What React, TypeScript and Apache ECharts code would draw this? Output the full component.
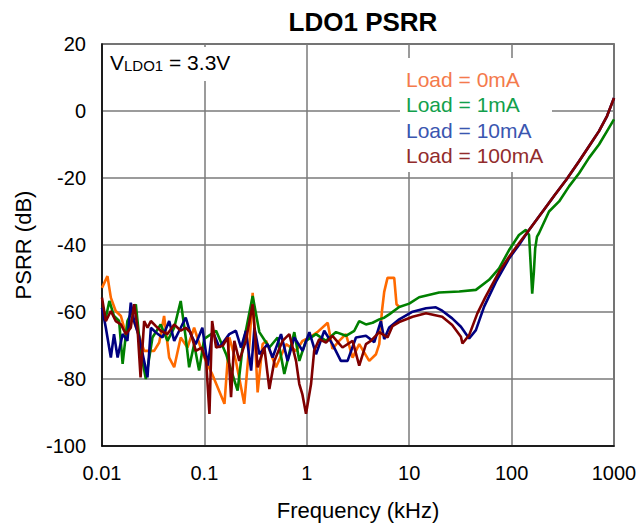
import React, { useEffect, useRef } from "react";
import * as echarts from "echarts";

const FONT = '"Liberation Sans", Arial, Helvetica, sans-serif';

const titleText = "LDO1 PSRR";
const xAxisName = "Frequency (kHz)";
const yAxisName = "PSRR (dB)";
const yMin = -100;
const yMax = 20;
const yStep = 20;
const xMin = 0.01;
const xMax = 1000;

const seriesNames = ["Load = 0mA", "Load = 1mA", "Load = 10mA", "Load = 100mA"];
const lineColors = ["#FF6A00", "#008000", "#000080", "#800000"];
const legendColors = ["#F47A4C", "#12A04C", "#3A56B0", "#922C2C"];

// [frequency kHz, PSRR dB]
const load0mA: [number, number][] = [
  [0.01, -52.8], [0.0113, -49.3], [0.0122, -55.7], [0.0136, -59.7], [0.0153, -61.2],
  [0.0171, -66.6], [0.0198, -61.7], [0.0222, -65.6], [0.0258, -71.6], [0.0323, -71.6],
  [0.0362, -69.1], [0.0404, -61.2], [0.0453, -73.6], [0.0507, -76.5], [0.0587, -67.6],
  [0.0683, -70.6], [0.0794, -64.7], [0.0918, -70.6], [0.103, -74.6], [0.119, -78.5],
  [0.157, -87.4], [0.175, -67.6], [0.203, -74.6], [0.245, -87.4], [0.275, -69.6],
  [0.296, -54.3], [0.331, -84], [0.37, -69.6], [0.4, -68.6], [0.5, -76.5],
  [0.627, -69.6], [0.785, -71.6], [0.91, -68.6], [1.06, -67.6], [1.27, -66],
  [1.6, -63.2], [1.78, -71], [2.07, -68.6], [2.41, -66.6], [2.8, -73.6],
  [3.25, -69.6], [4.07, -74.6], [4.74, -72.6], [5.1, -69.6], [5.42, -59.7],
  [5.7, -54], [6.14, -49.8], [7.14, -49.8], [7.52, -57.7], [7.99, -58.5],
];

const load1mA: [number, number][] = [
  [0.01, -58.7], [0.0109, -61.7], [0.0118, -56.7], [0.0131, -61.2], [0.0147, -62.7],
  [0.0159, -75.5], [0.0177, -62.7], [0.0198, -59.7], [0.0214, -57.7], [0.0238, -71.6],
  [0.0268, -80], [0.0311, -67.6], [0.0374, -63.7], [0.0436, -68.6], [0.0507, -64.7],
  [0.0587, -56.7], [0.0657, -67.6], [0.071, -76.5], [0.0794, -69.6], [0.0888, -77.5],
  [0.0995, -68], [0.13, -65.6], [0.163, -72.6], [0.211, -83.5], [0.236, -70.6],
  [0.296, -55.2], [0.344, -66], [0.431, -70.6], [0.519, -67.6], [0.603, -78.5],
  [0.755, -66], [0.845, -74.6], [0.98, -68.6], [1.23, -66.6], [1.54, -68.6],
  [1.93, -66], [2.41, -67.1], [2.91, -65.6], [3.25, -62.7], [3.78, -63.7],
  [4.39, -63.2], [5.1, -62.2], [5.7, -61.7], [6.38, -60.7], [7.99, -58.5],
  [10, -57.5], [12.5, -55.6], [19.6, -54.2], [30.8, -53.9], [44.8, -53.4],
  [60.3, -50.4], [75.5, -47], [94.5, -41.5], [118, -37], [138, -35.5],
  [148, -37], [153, -45], [159, -54.5], [165, -48], [170, -41],
  [177, -37.5], [185, -36.5], [232, -30], [291, -27], [364, -22.5],
  [456, -18.6], [570, -14], [714, -10], [855, -6], [1000, -2.5],
];

const load10mA: [number, number][] = [
  [0.01, -58.7], [0.0109, -64.7], [0.0122, -73.6], [0.0131, -66.6], [0.0142, -73.6],
  [0.0159, -66.6], [0.0177, -68.6], [0.0191, -57.2], [0.0206, -62.7], [0.0231, -67.6],
  [0.0258, -74.6], [0.0278, -79.5], [0.03, -64.7], [0.0336, -66.1], [0.0389, -67.6],
  [0.0453, -62.7], [0.0507, -68.6], [0.0587, -64.7], [0.0657, -61.7], [0.0734, -66.6],
  [0.0823, -69.6], [0.0955, -64.7], [0.108, -76], [0.12, -65.6], [0.14, -70.6],
  [0.175, -66.6], [0.203, -65.6], [0.228, -70.6], [0.254, -65.6], [0.286, -77.5],
  [0.308, -64.7], [0.344, -72.6], [0.414, -69.6], [0.463, -73.6], [0.56, -66.6],
  [0.65, -74.6], [0.755, -67.6], [0.91, -71.6], [1.06, -66], [1.23, -72.6],
  [1.48, -65.6], [1.78, -69.6], [2.15, -74.6], [2.5, -74.6], [3.02, -67.6],
  [3.78, -67.1], [4.56, -69], [5.29, -62.7], [5.7, -68.1], [6.38, -64.6],
  [7.99, -62.2], [10.8, -59.9], [14.6, -58.9], [18.2, -58.6], [21, -59.6],
  [26.3, -61.9], [32, -64.4], [38.5, -67.9], [44.8, -65.4], [53.9, -58.4],
  [70.2, -51], [94.5, -44], [118, -40], [148, -35.5], [207, -29.5],
  [265, -25], [342, -20.5], [456, -15], [570, -10.5], [714, -6],
  [855, -1.5], [1000, 3.9],
];

const load100mA: [number, number][] = [
  [0.01, -55.7], [0.0109, -62.7], [0.0122, -59.7], [0.0136, -62.7], [0.0153, -63.7],
  [0.0171, -66.6], [0.0191, -64.7], [0.0206, -57.7], [0.0222, -64.7], [0.0238, -79.5],
  [0.0258, -62.7], [0.0278, -64.7], [0.03, -62.7], [0.0336, -64.2], [0.0374, -65.6],
  [0.0436, -66.6], [0.0507, -63.7], [0.0587, -65.6], [0.0657, -64.7], [0.0734, -66.1],
  [0.0823, -71.6], [0.0941, -70.6], [0.104, -74.6], [0.112, -90.4], [0.119, -62.7],
  [0.13, -70.6], [0.151, -70.1], [0.169, -67.6], [0.182, -85.4], [0.196, -68.6],
  [0.219, -74.6], [0.254, -68.6], [0.296, -57.7], [0.331, -76.5], [0.385, -70.6],
  [0.431, -83], [0.482, -74.6], [0.58, -68.6], [0.675, -66.6], [0.785, -74.6],
  [0.845, -81.5], [0.904, -84.5], [0.982, -90.4], [1.1, -81.5], [1.18, -71.6],
  [1.32, -68.1], [1.54, -69.1], [1.78, -67.1], [2.23, -70.6], [2.8, -68.6],
  [3.25, -76], [3.78, -69.6], [4.22, -68.6], [5.1, -66], [6.14, -67.6],
  [6.87, -64.2], [7.99, -63], [10.8, -61.4], [14.6, -60.4], [21, -61.4],
  [26.3, -63.9], [32, -67.4], [33.1, -69.4], [38.5, -66.9], [46.3, -60.4],
  [55.8, -55.4], [75.5, -48], [94.5, -43.5], [118, -39.5], [148, -35.5],
  [207, -29.5], [265, -25], [342, -20.5], [456, -15], [570, -10.5],
  [714, -6], [855, -1.5], [1000, 3.9],
];

const seriesData = [load0mA, load1mA, load10mA, load100mA];

export default function App() {
  const ref = useRef<HTMLDivElement>(null);

  useEffect(() => {
    if (!ref.current) return;
    const chart = echarts.init(ref.current, null, { renderer: "svg" });

    const legendTexts = seriesNames.map((name, i) => ({
      type: "text",
      x: 406,
      y: 79 + i * 25.5,
      z: 3,
      style: {
        text: name,
        fill: legendColors[i],
        fontSize: 21,
        fontFamily: FONT,
        verticalAlign: "middle",
        align: "left",
      },
    }));

    chart.setOption({
      animation: false,
      backgroundColor: "#ffffff",
      title: {
        text: titleText,
        left: 358,
        top: 4,
        textAlign: "center",
        textStyle: { fontSize: 26, fontWeight: "bold", fontFamily: FONT, color: "#000" },
      },
      grid: {
        left: 102,
        right: 30,
        top: 44,
        bottom: 86,
        show: true,
        borderColor: "#333",
        borderWidth: 1.5,
        backgroundColor: "transparent",
        containLabel: false,
      },
      xAxis: {
        type: "log",
        logBase: 10,
        min: xMin,
        max: xMax,
        name: xAxisName,
        nameLocation: "middle",
        nameGap: 53,
        nameTextStyle: { fontSize: 22, fontFamily: FONT, color: "#000" },
        axisLine: { show: true, onZero: false, lineStyle: { color: "#000", width: 1.5 } },
        axisTick: { show: false },
        minorTick: { show: false },
        axisLabel: {
          fontSize: 20,
          fontFamily: FONT,
          color: "#000",
          margin: 17,
          formatter: (v: number) => String(parseFloat(Number(v).toPrecision(6))),
        },
        splitLine: { show: true, lineStyle: { color: "#7a7a7a", width: 1.5 } },
      },
      yAxis: {
        type: "value",
        min: yMin,
        max: yMax,
        interval: yStep,
        name: yAxisName,
        nameLocation: "middle",
        nameGap: 68,
        nameTextStyle: { fontSize: 22, fontFamily: FONT, color: "#000" },
        axisLine: { show: true, onZero: false, lineStyle: { color: "#000", width: 1.5 } },
        axisTick: { show: false },
        axisLabel: { fontSize: 20, fontFamily: FONT, color: "#000", margin: 16 },
        splitLine: { show: true, lineStyle: { color: "#7a7a7a", width: 1.5 } },
      },
      series: seriesData.map((d, i) => ({
        name: seriesNames[i],
        type: "line",
        data: d,
        showSymbol: false,
        symbol: "none",
        z: 2 + i,
        lineStyle: { color: lineColors[i], width: 2.6 },
        itemStyle: { color: lineColors[i] },
      })),
      graphic: [
        {
          type: "rect",
          z: 1,
          shape: { x: 400, y: 58, width: 152, height: 114 },
          style: { fill: "#ffffff" },
        },
        {
          type: "rect",
          z: 1,
          shape: { x: 104, y: 47, width: 136, height: 34 },
          style: { fill: "#ffffff" },
        },
        {
          type: "text",
          x: 110,
          y: 73,
          z: 3,
          style: {
            text: "{a|V}{b|LDO1}{a| = 3.3V}",
            verticalAlign: "bottom",
            align: "left",
            rich: {
              a: { fontSize: 21, fontFamily: FONT, fill: "#000", verticalAlign: "bottom", lineHeight: 24 },
              b: { fontSize: 15, fontFamily: FONT, fill: "#000", verticalAlign: "bottom", lineHeight: 21 },
            },
          },
        },
        ...legendTexts,
      ],
    });

    return () => chart.dispose();
  }, []);

  return (
    <div
      ref={ref}
      style={{ position: "fixed", left: 0, top: 0, width: 644, height: 532, background: "#fff" }}
    />
  );
}
